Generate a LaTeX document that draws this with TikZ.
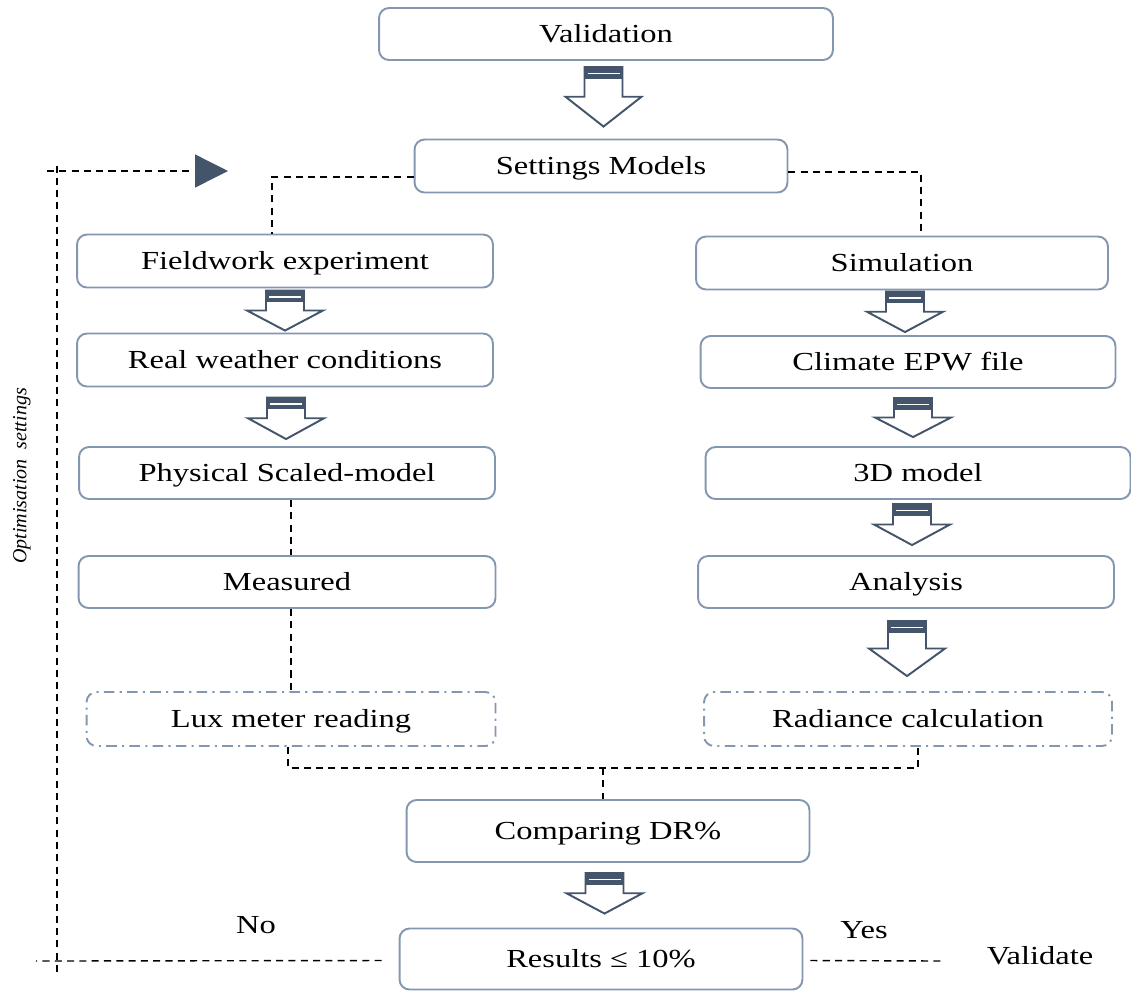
\documentclass[tikz,border=0pt]{standalone}
\usepackage{fontspec}
\setmainfont{Liberation Serif}[FakeStretch=1.25]
\newfontfamily\plainserif{Liberation Serif}
\usepackage{amsmath}
\usetikzlibrary{arrows.meta,calc,positioning}

\definecolor{boxline}{RGB}{132,151,176}
\definecolor{arrowdark}{RGB}{68,84,106}

% block arrow between two boxes: #1 from, #2 to, #3 top gap, #4 bottom gap (px)
\newcommand{\bigarrow}[4]{%
  \path let \p1=($(#1.south)+(0,#3)$), \p2=($(#2.north)+(0,-#4)$),
    \p3=($(#1.south)!.5!(#2.north)$) in
    coordinate (bA) at (\x3,\y1) coordinate (bB) at (\x3,\y2)
    coordinate (bH) at (\x3,{(\y1+\y2)/2});
  \filldraw[arrow body] ([xshift=-0.38cm]bA) -- ([xshift=0.38cm]bA)
    -- ([xshift=0.38cm]bH) -- ([xshift=0.76cm]bH) -- (bB)
    -- ([xshift=-0.76cm]bH) -- ([xshift=-0.38cm]bH) -- cycle;
  \fill[arrowdark] ([xshift=-0.38cm]bA) rectangle ([xshift=0.38cm,yshift=-0.24cm]bA);
  \draw[white,line width=1pt] ([xshift=-0.32cm,yshift=-0.13cm]bA)
    -- ([xshift=0.32cm,yshift=-0.13cm]bA);
}

\begin{document}
\begin{tikzpicture}[x=0.02cm,y=-0.02cm,
  box node/.style={rectangle,rounded corners=0.2cm,draw=boxline,line width=1.1pt,
    fill=white,inner sep=0pt,minimum height=1.06cm,minimum width=8.32cm,
    font=\fontsize{14.8}{17}\selectfont,text height=10.5pt,text depth=1pt},
  dot node/.style={box node,dash pattern=on 6pt off 3pt on 1.2pt off 3pt},
  dash line/.style={draw=black,line width=0.8pt,dash pattern=on 4pt off 3pt},
  arrow body/.style={draw=arrowdark,fill=white,line width=1.1pt,line join=miter},
  label text/.style={font=\fontsize{14.8}{17}\selectfont}]

  \useasboundingbox (0,0) rectangle (1131,992);

  \node[box node,minimum width=9.08cm,minimum height=1.04cm] (val) at (606,34) {Validation};
  \node[box node,minimum width=7.46cm] (set) at (601,166) {Settings Models};

  % fieldwork side
  \node[box node] (field) at (285,261) {Fieldwork experiment};
  \node[box node] (real) at (285,360) {Real weather conditions};
  \node[box node,minimum height=1.04cm] (phys) at (287,473) {Physical Scaled-model};
  \node[box node,minimum height=1.04cm,minimum width=8.34cm] (meas) at (287,582) {Measured};
  \node[dot node,minimum width=8.18cm,minimum height=1.08cm] (lux) at (291,719) {Lux meter reading};

  % simulation side
  \node[box node,minimum width=8.24cm] (sim) at (902,263) {Simulation};
  \node[box node,minimum width=8.30cm,minimum height=1.04cm] (clim) at (908,362) {Climate EPW file};
  \node[box node,minimum width=8.50cm,minimum height=1.04cm] (three) at (918,473) {3D model};
  \node[box node,minimum height=1.04cm] (ana) at (906,582) {Analysis};
  \node[dot node,minimum width=8.16cm,minimum height=1.08cm] (rad) at (908,719) {Radiance calculation};

  \node[box node,minimum width=8.06cm,minimum height=1.24cm] (comp) at (608,831) {Comparing DR\%};
  \node[box node,minimum width=8.06cm,minimum height=1.22cm] (res) at (601,959) {Results ≤ 10\%};

  \node[label text] (no) at (256,925) {No};
  \node[label text] (yes) at (864,930) {Yes};
  \node[label text] (valtxt) at (1040,956) {Validate};
  \node[rotate=90,font=\plainserif\itshape\fontsize{11.4}{13}\selectfont] (opt) at (22,476)
    {Optimisation\ \ settings};

  % block arrows
  \bigarrow{val}{set}{6}{12}
  \bigarrow{field}{real}{2}{2}
  \bigarrow{real}{phys}{10}{7}
  \bigarrow{sim}{clim}{1}{3}
  \bigarrow{clim}{three}{9}{9}
  \bigarrow{three}{ana}{4}{10}
  \bigarrow{ana}{rad}{12}{15}
  \bigarrow{comp}{res}{10}{14}

  % dashed connectors
  \coordinate (join) at (603,768);
  \draw[dash line] ([yshift=-0.22cm]set.west) -| ([xshift=-0.26cm]field.north);
  \draw[dash line] ([yshift=-0.12cm]set.east) -| ([xshift=0.38cm]sim.north);
  \draw[dash line] ([xshift=0.08cm]phys.south) -- ([xshift=0.08cm]meas.north);
  \draw[dash line] ([xshift=0.08cm]meas.south) -- ([xshift=0.08cm]meas.south |- lux.north);
  \draw[dash line] ([xshift=-0.06cm]lux.south) |- (join) -| ([xshift=0.2cm]rad.south);
  \draw[dash line] (join) -- (join |- comp.north);

  % optimisation loop
  \coordinate (fbBot) at (57,972);
  \coordinate (fbTop) at (57,162);
  \coordinate (fbStart) at (47,171);
  \coordinate (fbTip) at (228,171);
  \coordinate (noEnd) at (36,961);
  \coordinate (yesEnd) at (943,961);
  \draw[dash line] (fbBot) -- (fbTop);
  \draw[dash line,-{Triangle[length=0.66cm,width=0.66cm,color=arrowdark]}] (fbStart) -- (fbTip);
  \draw[dash line] ([xshift=-0.34cm,yshift=-0.03cm]res.west) -- (noEnd);
  \draw[dash line] ([xshift=0.14cm,yshift=-0.03cm]res.east) -- (yesEnd);

\end{tikzpicture}
\end{document}
